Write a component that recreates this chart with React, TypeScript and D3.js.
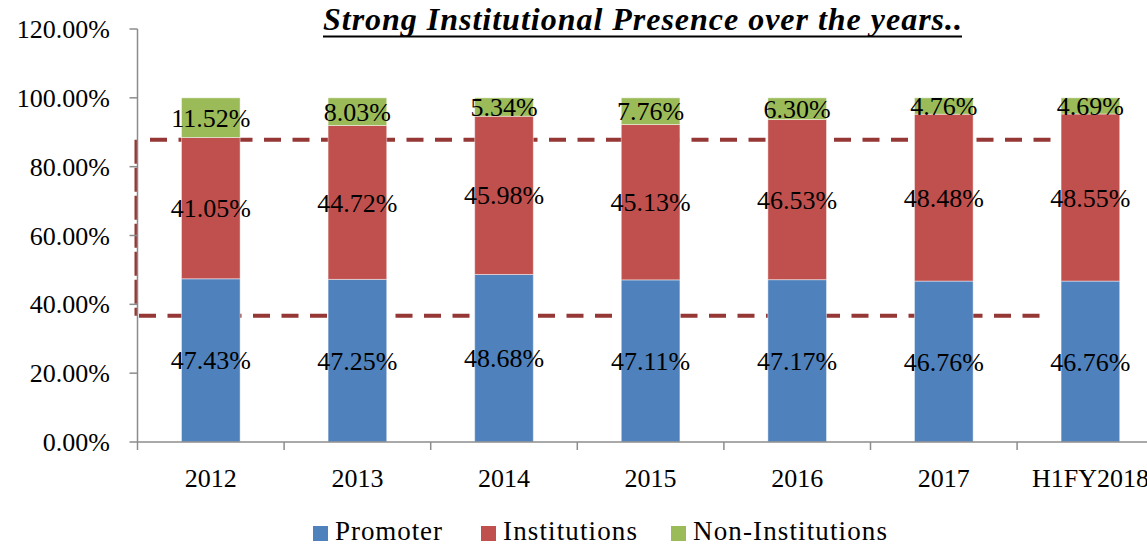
import React from "react";
import * as d3 from "d3";

const categories = ["2012", "2013", "2014", "2015", "2016", "2017", "H1FY2018"];
const promoter = [47.43, 47.25, 48.68, 47.11, 47.17, 46.76, 46.76];
const institutions = [41.05, 44.72, 45.98, 45.13, 46.53, 48.48, 48.55];
const nonInstitutions = [11.52, 8.03, 5.34, 7.76, 6.3, 4.76, 4.69];
const seriesNames = ["Promoter", "Institutions", "Non-Institutions"];
const seriesColors = ["#4F81BD", "#C0504D", "#9BBB59"];
const yTicks = [0, 20, 40, 60, 80, 100, 120];
const boxRange = [36.7, 87.8];
const title = "Strong Institutional Presence over the years..";

const W = 1147;
const H = 545;
const left = 137.5;
const step = 146.6;
const FONT = "'Liberation Serif', 'Times New Roman', serif";

export default function App() {
  const x = d3
    .scaleBand<string>()
    .domain(categories)
    .range([left, left + step * categories.length])
    .paddingInner(0.6)
    .paddingOuter(0.3);
  const y = d3.scaleLinear().domain([0, 120]).range([442, 29]);

  const rows = categories.map((c, i) => ({
    cat: c,
    Promoter: promoter[i],
    Institutions: institutions[i],
    "Non-Institutions": nonInstitutions[i],
  }));
  const stacked = d3.stack<any>().keys(seriesNames)(rows);

  const fmt = (v: number) => v.toFixed(2) + "%";
  const legendX = [313, 481, 671];
  const legendLen = [107, 134, 194];

  return (
    <svg
      width={W}
      height={H}
      style={{ position: "absolute", left: 0, top: 0, background: "#fff", fontFamily: FONT }}
    >
      {/* title */}
      <text
        x={323}
        y={30}
        fontSize={32}
        fontWeight="bold"
        fontStyle="italic"
        textLength={639}
        lengthAdjust="spacing"
        fill="#000"
      >
        {title}
      </text>
      <line x1={323} x2={962} y1={36.5} y2={36.5} stroke="#000" strokeWidth={2} />

      {/* dashed annotation box */}
      <g stroke="#953735" fill="none">
        <line x1={150} x2={1060} y1={y(boxRange[1])} y2={y(boxRange[1])} strokeWidth={4} strokeDasharray="17 11.5" />
        <line x1={139} x2={1050} y1={y(boxRange[0])} y2={y(boxRange[0])} strokeWidth={4} strokeDasharray="17 11.5" />
        <line x1={136} x2={136} y1={y(boxRange[1])} y2={y(boxRange[0])} strokeWidth={3} strokeDasharray="24 4" />
      </g>

      {/* bars */}
      {stacked.map((s, si) => (
        <g key={s.key}>
          {s.map((d, i) => (
            <rect
              key={i}
              x={x(categories[i])}
              width={x.bandwidth()}
              y={y(d[1])}
              height={y(d[0]) - y(d[1])}
              fill={seriesColors[si]}
              stroke="rgba(255,255,255,0.45)"
              strokeWidth={1}
            />
          ))}
        </g>
      ))}

      {/* axes */}
      <g stroke="#8C8C8C" strokeWidth={1.5}>
        <line x1={left} x2={left} y1={y(120)} y2={y(0)} />
        <line x1={left} x2={W} y1={y(0)} y2={y(0)} />
        {yTicks.map((t) => (
          <line key={t} x1={left - 8} x2={left} y1={y(t)} y2={y(t)} />
        ))}
        {d3.range(categories.length + 1).map((i) => (
          <line key={i} x1={left + i * step} x2={left + i * step} y1={y(0)} y2={y(0) + 8} />
        ))}
      </g>
      {yTicks.map((t) => (
        <text key={t} x={110} y={y(t)} dy="0.35em" textAnchor="end" fontSize={26} fill="#000">
          {fmt(t)}
        </text>
      ))}
      {categories.map((c) => (
        <text key={c} x={x(c)! + x.bandwidth() / 2} y={487} textAnchor="middle" fontSize={26} fill="#000">
          {c}
        </text>
      ))}

      {/* data labels */}
      {stacked.map((s) => (
        <g key={"l" + s.key}>
          {s.map((d, i) => (
            <text
              key={i}
              x={x(categories[i])! + x.bandwidth() / 2}
              y={y((d[0] + d[1]) / 2)}
              dy="0.35em"
              textAnchor="middle"
              fontSize={26}
              fill="#000"
            >
              {fmt(d[1] - d[0])}
            </text>
          ))}
        </g>
      ))}

      {/* legend */}
      {seriesNames.map((n, i) => (
        <g key={n}>
          <rect x={legendX[i]} y={526} width={15} height={15} fill={seriesColors[i]} />
          <text
            x={legendX[i] + 22}
            y={540}
            fontSize={27}
            textLength={legendLen[i]}
            lengthAdjust="spacing"
            fill="#000"
          >
            {n}
          </text>
        </g>
      ))}
    </svg>
  );
}
